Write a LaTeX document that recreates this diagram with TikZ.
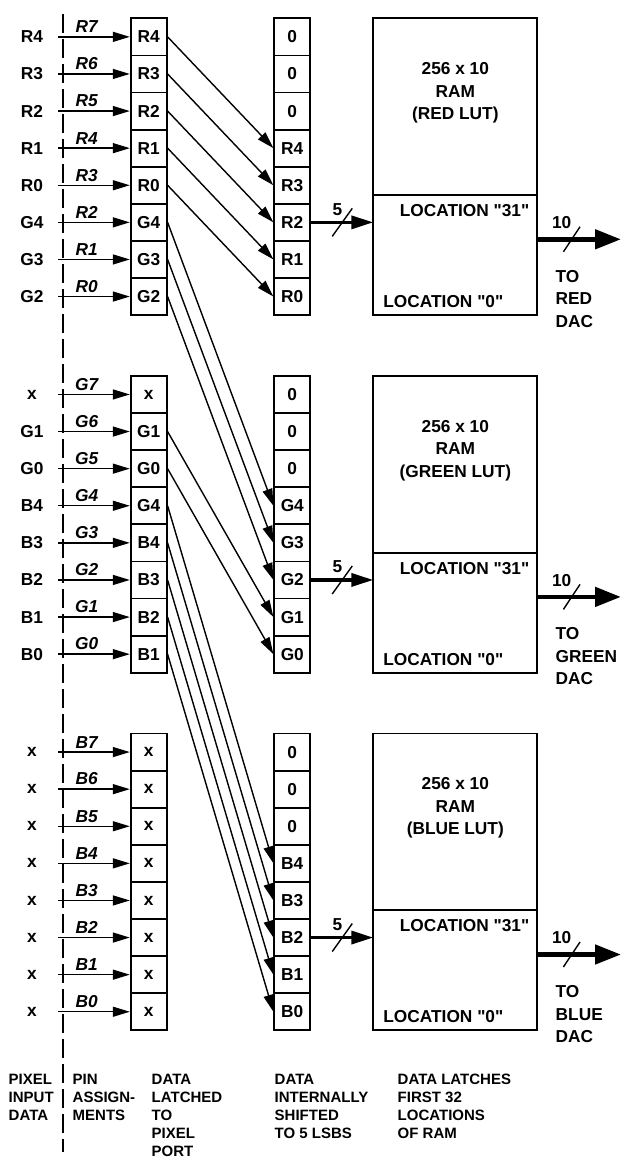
\documentclass[tikz,border=0pt]{standalone}
\usepackage{fontspec}
\setmainfont{Liberation Sans}
\usetikzlibrary{arrows.meta, positioning}

\begin{document}
\begin{tikzpicture}[x=1pt, y=-1pt, line width=1.4pt,
    font=\fontsize{17.3}{22.5}\selectfont\bfseries,
    >={Triangle[length=17pt, width=10pt]},
    cell/.style={draw, line width=1.8pt, minimum width=36pt, minimum height=37.1pt, inner sep=0pt},
    ram/.style={draw, line width=1.8pt, minimum width=164pt, inner sep=0pt, outer sep=0pt},
    pin/.style={above, font=\fontsize{17.3}{20}\selectfont\bfseries\itshape},
    bus/.style={line width=3.5pt, -{Triangle[length=22pt, width=13pt]}},
    dacbus/.style={line width=4.7pt, -{Triangle[length=26pt, width=19pt]}},
    note/.style={anchor=north west, align=left, inner sep=0pt, font=\fontsize{15}{18}\selectfont\bfseries}]

\useasboundingbox (0,0) rectangle (621,1160);

% pin boundary
\draw[line width=1.2pt, dash pattern=on 19pt off 6pt] (63,14) -- (63,1152);

% one block per LUT: input / pin / latched / shifted
\foreach \gi/\grp/\lut/\rows in {
  0/r/RED/{R4/R7/R4/0, R3/R6/R3/0, R2/R5/R2/0, R1/R4/R1/R4, R0/R3/R0/R3, G4/R2/G4/R2, G3/R1/G3/R1, G2/R0/G2/R0},
  1/g/GREEN/{x/G7/x/0, G1/G6/G1/0, G0/G5/G0/0, B4/G4/G4/G4, B3/G3/B4/G3, B2/G2/B3/G2, B1/G1/B2/G1, B0/G0/B1/G0},
  2/b/BLUE/{x/B7/x/0, x/B6/x/0, x/B5/x/0, x/B4/x/B4, x/B3/x/B3, x/B2/x/B2, x/B1/x/B1, x/B0/x/B0}}
{
  \pgfmathsetmacro\lutY{18.3+357.6*\gi}
  \foreach \inp/\pin/\lat/\sh [count=\i] in \rows {
    \pgfmathsetmacro\yy{\lutY+(\i-0.5)*37.1}
    \node (\grp in\i) at (32,\yy) {\inp};
    \coordinate (\grp p\i) at (58,\yy);
    \node[cell] (\grp a\i) at (148.7,\yy) {\lat};
    \node[cell] (\grp s\i) at (292.3,\yy) {\sh};
    \draw[->] (\grp p\i) -- (\grp a\i) node[pin, pos=0.4] {\pin};
  }

  % RAM
  \node[ram, minimum height=176.7pt, anchor=north west] (\grp lut) at (373.3,\lutY) {};
  \node[ram, minimum height=120pt, below=0pt of \grp lut] (\grp loc) {};
  \node[align=center, anchor=north, inner sep=0pt] (\grp name) at (455.3,\lutY+43.5) {256 x 10\\RAM\\(\lut{} LUT)};
  \node[anchor=east, inner sep=0pt] (\grp hi) at (530,\lutY+192.4) {LOCATION \textquotedbl31\textquotedbl};
  \node[anchor=west, inner sep=0pt] (\grp lo) at (382.7,\lutY+283.4) {LOCATION \textquotedbl0\textquotedbl};

  % 5 bit bus in
  \draw[bus] (\grp s6.east) -- (\grp s6.east -| \grp loc.west);
  \path (\grp s6.east) -- (\grp s6.east -| \grp loc.west) coordinate[midway] (\grp cut);
  \draw ([shift={(-10,14)}]\grp cut) -- ([shift={(10,-14)}]\grp cut);
  \node at ([shift={(-4.7,-13)}]\grp cut) {5};

  % 10 bit bus out
  \coordinate (\grp dac) at (621,\lutY+221);
  \draw[dacbus] (\grp dac -| \grp loc.east) -- (\grp dac);
  \coordinate (\grp cut2) at (571.7,\lutY+221);
  \draw ([shift={(-8.3,12.5)}]\grp cut2) -- ([shift={(8.3,-12.5)}]\grp cut2);
  \node at (561.7,\lutY+204.4) {10};
  \node[anchor=north west, align=left, inner sep=0pt] (\grp to) at (555,\lutY+251.3) {TO\\\lut\\DAC};
}

% shifts into the 5 LSBs
\foreach \i in {1,...,5} {
  \pgfmathtruncatemacro\j{\i+3}
  \draw[->] (ra\i.east) -- (rs\j.west);
}
\foreach \i in {6,7,8} {
  \pgfmathtruncatemacro\j{\i-2}
  \draw[->] (ra\i.east) -- (gs\j.west);
}
\foreach \i in {2,3} {
  \pgfmathtruncatemacro\j{\i+5}
  \draw[->] (ga\i.east) -- (gs\j.west);
}
\foreach \i in {4,...,8}
  \draw[->] (ga\i.east) -- (bs\i.west);

% column captions
\node[note] (pixel) at (8,1073.6) {PIXEL\\INPUT\\DATA};
\node[note] (pins) at (72,1073.6) {PIN\\ASSIGN-\\MENTS};
\node[note] (latch) at (151,1073.6) {DATA\\LATCHED\\TO\\PIXEL\\PORT};
\node[note] (shifted) at (274,1073.6) {DATA\\INTERNALLY\\SHIFTED\\TO 5 LSBS};
\node[note] (locs) at (397,1073.6) {DATA LATCHES\\FIRST 32\\LOCATIONS\\OF RAM};
\end{tikzpicture}
\end{document}
